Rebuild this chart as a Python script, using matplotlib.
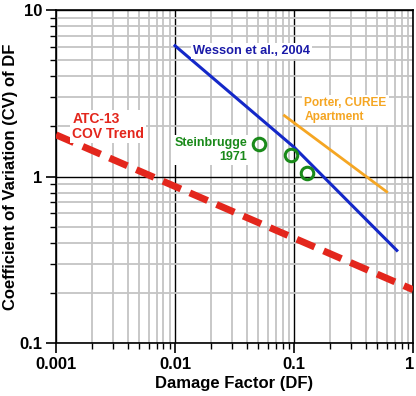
import matplotlib
matplotlib.use("Agg")
import matplotlib.pyplot as plt
from matplotlib.transforms import ScaledTranslation
from matplotlib.ticker import LogLocator, FixedLocator, FixedFormatter, NullFormatter

# Wesson et al., 2004
wesson_df = [0.01, 0.1, 0.73]
wesson_cv = [6.1, 1.5, 0.36]

# Porter, CUREE Apartment
porter_df = [0.083, 0.6]
porter_cv = [2.32, 0.81]

# Steinbrugge 1971 points
stein_df = [0.051, 0.094, 0.129]
stein_cv = [1.57, 1.35, 1.05]

# ATC-13 COV trend
atc_df = [0.001, 1.0]
atc_cv = [1.78, 0.209]

x_ticks = [0.001, 0.01, 0.1, 1]
x_labels = ["0.001", "0.01", "0.1", "1"]
y_ticks = [0.1, 1, 10]
y_labels = ["0.1", "1", "10"]

plt.rcParams["font.family"] = ["Liberation Sans", "DejaVu Sans"]
plt.rcParams["font.weight"] = "bold"

fig = plt.figure(figsize=(4.16, 3.96), dpi=100)
ax = fig.add_axes([0.1346, 0.1338, 0.8584, 0.8409])
ax.set_xscale("log")
ax.set_yscale("log")
ax.set_xlim(0.001, 1)
ax.set_ylim(0.1, 10)

# grid
ax.xaxis.set_minor_locator(LogLocator(base=10, subs=range(2, 10)))
ax.yaxis.set_minor_locator(LogLocator(base=10, subs=range(2, 10)))
ax.xaxis.set_minor_formatter(NullFormatter())
ax.yaxis.set_minor_formatter(NullFormatter())
ax.grid(which="minor", color="#c4c4c4", linewidth=1.3, zorder=0)
ax.grid(which="major", color="black", linewidth=1.0, zorder=0.5)
ax.set_axisbelow(True)

ax.xaxis.set_major_locator(FixedLocator(x_ticks))
ax.xaxis.set_major_formatter(FixedFormatter(x_labels))
ax.yaxis.set_major_locator(FixedLocator(y_ticks))
ax.yaxis.set_major_formatter(FixedFormatter(y_labels))
ax.tick_params(which="major", direction="out", length=7, width=1.2, labelsize=12, pad=3)
ax.tick_params(which="minor", direction="out", length=4, width=1.0)
for lab in ax.get_xticklabels() + ax.get_yticklabels():
    lab.set_fontweight("bold")
for sp in ax.spines.values():
    sp.set_linewidth(1.2)

# last x label sits at the figure edge, nudge it in a bit
last = ax.xaxis.get_major_ticks()[-1].label1
last.set_transform(last.get_transform() + ScaledTranslation(-0.03, 0, fig.dpi_scale_trans))

ax.set_xlabel("Damage Factor (DF)", fontsize=12, fontweight="bold", labelpad=3)
ax.set_ylabel("Coefficient of Variation (CV) of DF", fontsize=12, fontweight="bold", labelpad=1)

ax.plot(atc_df, atc_cv, color="#e3261c", linewidth=5, linestyle=(0, (2.8, 1.4)),
        solid_capstyle="butt", zorder=3, clip_on=True)
ax.plot(wesson_df, wesson_cv, color="#1428c8", linewidth=2.2, zorder=4)
ax.plot(porter_df, porter_cv, color="#f5a623", linewidth=2.0, zorder=4)
ax.plot(stein_df, stein_cv, linestyle="none", marker="o", markersize=9,
        markerfacecolor="none", markeredgecolor="#1a8a1a", markeredgewidth=2.2, zorder=5)

box = dict(facecolor="white", edgecolor="none", pad=1.5)
ax.text(0.0142, 5.7, "Wesson et al., 2004", color="#1a1aa8", fontsize=9.2, fontweight="bold",
        ha="left", va="center", bbox=box, zorder=6)
ax.text(0.122, 2.5, "Porter, CUREE\nApartment", color="#f5a623", fontsize=8.6, fontweight="bold",
        ha="left", va="center", linespacing=1.25, bbox=box, zorder=6)
ax.text(0.0405, 1.445, "Steinbrugge\n1971", color="#1a8a1a", fontsize=9, fontweight="bold",
        ha="right", va="center", linespacing=1.15, bbox=box, zorder=6)
ax.text(0.00137, 1.99, "ATC-13\nCOV Trend", color="#e3261c", fontsize=10, fontweight="bold",
        ha="left", va="center", linespacing=1.1, bbox=box, zorder=6)

fig.savefig("out.png", dpi=100)
